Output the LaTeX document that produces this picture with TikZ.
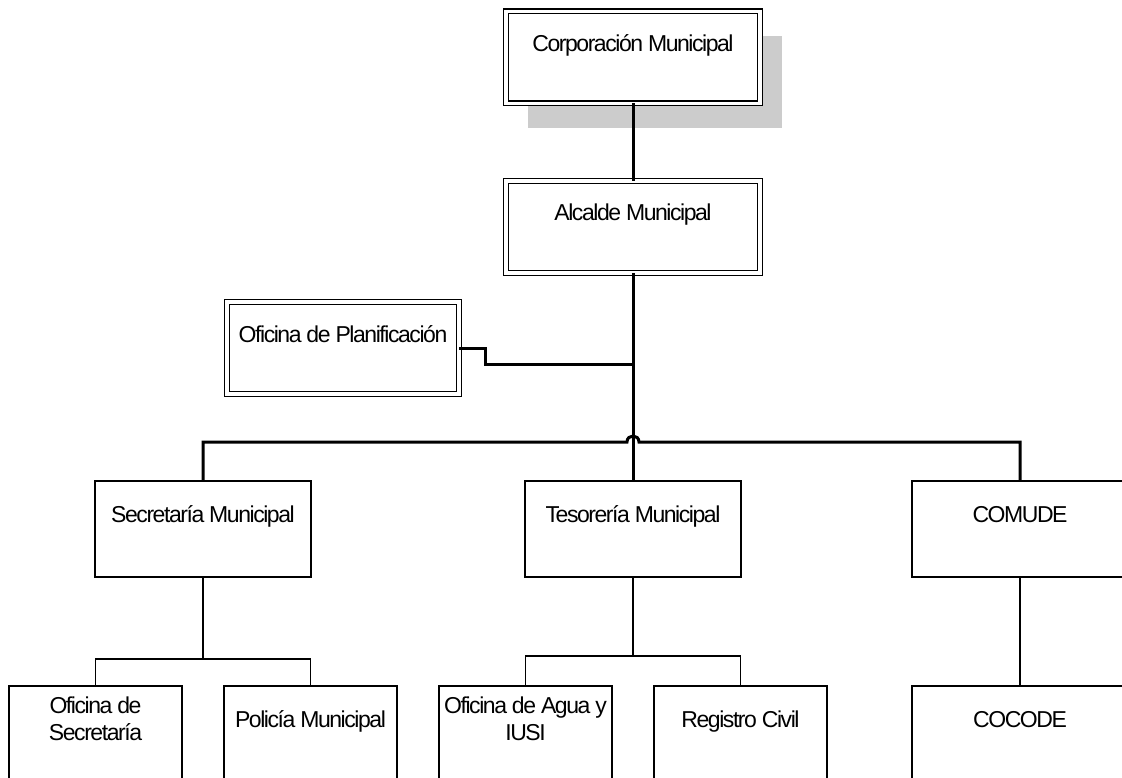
\documentclass[tikz,border=0pt]{standalone}
\usepackage{fontspec}
\setmainfont{Liberation Sans}[LetterSpace=-6.3]
\usetikzlibrary{shadows}
\begin{document}
\begin{tikzpicture}[x=1pt,y=-1pt,
  every node/.style={inner sep=0pt, outer sep=0pt, font=\fontsize{23}{27}\selectfont},
  dbox/.style={draw, rectangle, line width=1.3pt, double, double distance=3.4pt,
    minimum width=#1, text height=40pt, text depth=52pt},
  sbox/.style={draw, rectangle, line width=1.5pt, fill=white,
    minimum width=#1, text height=41pt, text depth=55pt},
  tbox/.style={draw, rectangle, line width=1.5pt, fill=white,
    minimum width=#1, text height=27pt, text depth=69pt},
  shade/.style={drop shadow={shadow xshift=22pt, shadow yshift=-25pt, fill=black!20, opacity=1}},
  thickline/.style={line width=3pt},
  thinline/.style={line width=1.5pt}
]
\useasboundingbox (0,0) rectangle (1122,778);
\clip (0,0) rectangle (1122,778);

% upper boxes
\node[dbox=254, shade, fill=white] (corp) at (633,57.5) {Corporación Municipal};
\node[dbox=254, fill=white] (alc) at (633,227) {Alcalde Municipal};
\node[dbox=232, fill=white] (plan) at (343,348) {Oficina de Planificación};

% second level
\node[sbox=216] (sec) at (203,529) {Secretaría Municipal};
\node[sbox=216] (tes) at (633,529) {Tesorería Municipal};
\node[sbox=216] (com) at (1020,529) {COMUDE};

% third level
\node[tbox=173] (ofsec) at (95.5,734) {\begin{tabular}[t]{@{}c@{}}Oficina de\\Secretaría\end{tabular}};
\node[sbox=173] (pol) at (310.5,734) {Policía Municipal};
\node[tbox=173] (agua) at (525.5,734) {\begin{tabular}[t]{@{}c@{}}Oficina de Agua y\\IUSI\end{tabular}};
\node[sbox=173] (reg) at (740.5,734) {Registro Civil};
\node[sbox=216] (coc) at (1020,734) {COCODE};

% junction points
\coordinate (pj) at (633,364);
\coordinate (hl) at (627,442);
\coordinate (hr) at (639,442);
\coordinate (sj) at (203,659);
\coordinate (tj) at (633,656);

% connectors
\draw[thickline] (corp.south) -- (alc.north);
\draw[thickline] (alc.south) -- (tes.north);
\draw[thickline] (plan.east) -- ++(26,0) |- (pj);
\draw[thickline] (sec.north) |- (hl) .. controls (627,434) and (639,434) .. (hr) -| (com.north);

\draw[thinline] (sec.south) -- (sj);
\draw[thinline] (ofsec.north) |- (sj) -| (pol.north);
\draw[thinline] (tes.south) -- (tj);
\draw[thinline] (agua.north) |- (tj) -| (reg.north);
\draw[thinline] (com.south) -- (coc.north);
\end{tikzpicture}
\end{document}
